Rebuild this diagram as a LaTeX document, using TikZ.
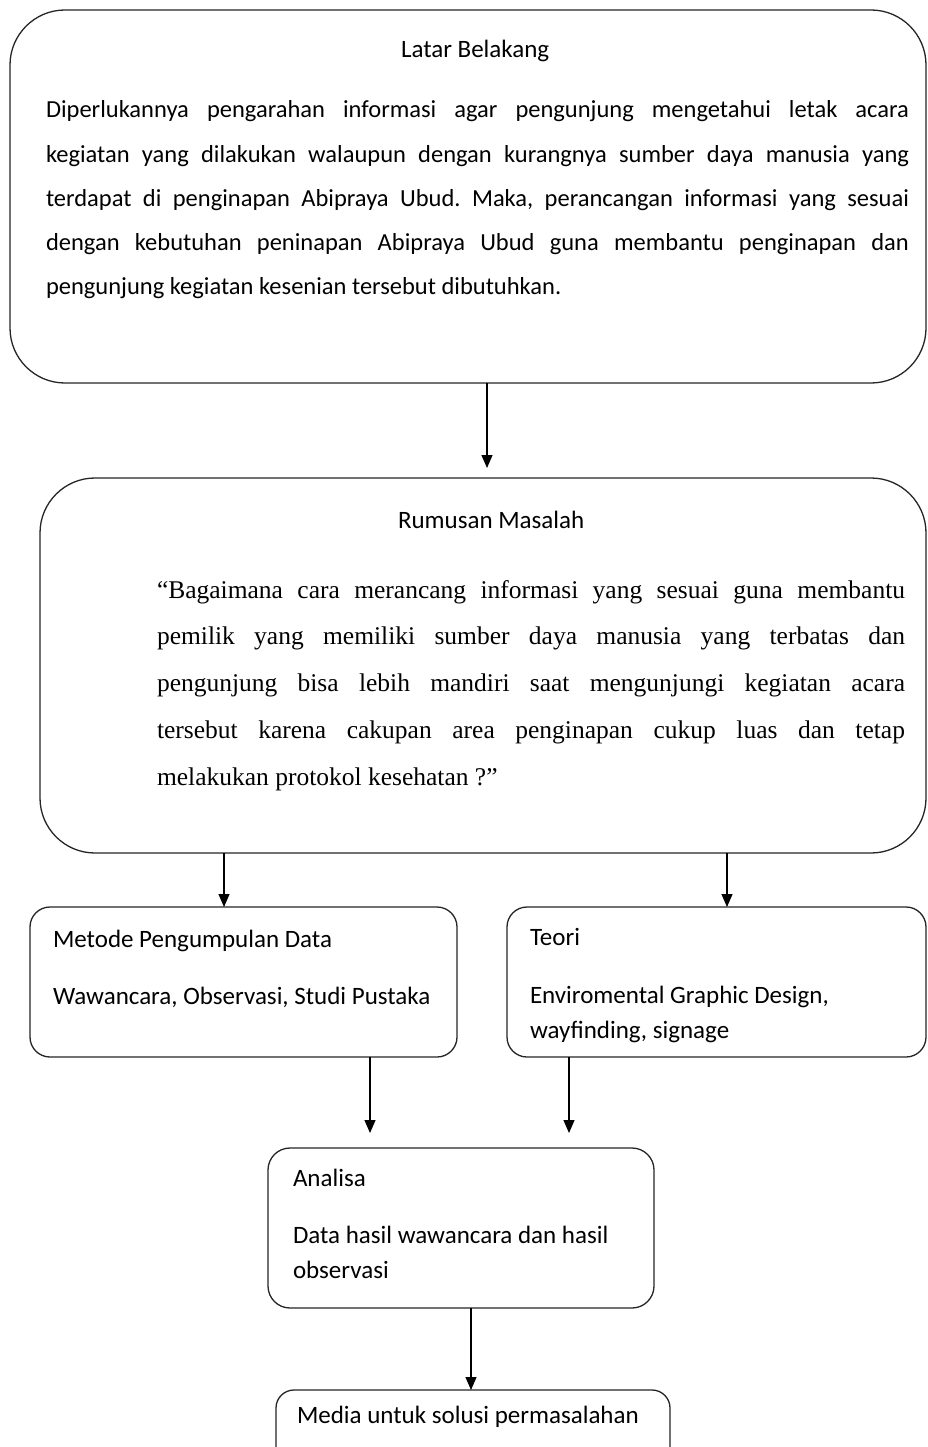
\documentclass[tikz,border=0pt]{standalone}
\usepackage{fontspec}
\setmainfont{Carlito}
\newfontfamily\quotefont{Liberation Serif}
\usetikzlibrary{arrows.meta}
\begin{document}
\begin{tikzpicture}[x=1pt,y=-1pt,
  box/.style={draw=black!85,line width=1.3pt,inner sep=0pt,outer sep=0pt,anchor=north west},
  txt/.style={inner sep=0pt,outer sep=0pt,anchor=base west,font=\fontsize{25}{25}\selectfont},
  para/.style={inner sep=0pt,outer sep=0pt,anchor=base west,align=justify},
  arr/.style={draw=black,line width=1.2pt,-{Triangle[width=11pt,length=13pt]}}]
\useasboundingbox[fill=white] (0,0) rectangle (928,1447);
\hbadness=10000 \hyphenpenalty=10000 \exhyphenpenalty=10000 \frenchspacing
% boxes
\node[box,rounded corners=55pt,minimum width=916pt,minimum height=373pt] (b1) at (10,10) {};
\node[box,rounded corners=55pt,minimum width=886pt,minimum height=375pt] (b2) at (40,478) {};
\node[box,rounded corners=20pt,minimum width=427pt,minimum height=150pt] (b3) at (30,907) {};
\node[box,rounded corners=20pt,minimum width=419pt,minimum height=150pt] (b4) at (507,907) {};
\node[box,rounded corners=22pt,minimum width=386pt,minimum height=160pt] (b5) at (268,1148) {};
\node[box,rounded corners=18pt,minimum width=394pt,minimum height=90pt] (b6) at (276,1390) {};
% texts
\node[txt] (t1) at (401,58) {Latar Belakang};
\node[para,text width=863pt,font=\fontsize{24.5}{44.25}\selectfont] (p1) at (46,118) {Diperlukannya pengarahan informasi agar pengunjung mengetahui letak acara\linebreak kegiatan yang dilakukan walaupun dengan kurangnya sumber daya manusia yang\linebreak terdapat di penginapan Abipraya Ubud. Maka, perancangan informasi yang sesuai\linebreak dengan kebutuhan peninapan Abipraya Ubud guna membantu penginapan dan\linebreak pengunjung kegiatan kesenian tersebut dibutuhkan.};
\node[txt] (t2) at (398,528) {Rumusan Masalah};
\node[para,text width=748pt,font=\quotefont\fontsize{25.5}{46.75}\selectfont] (p2) at (157,598) {“Bagaimana cara merancang informasi yang sesuai guna membantu\linebreak pemilik yang memiliki sumber daya manusia yang terbatas dan\linebreak pengunjung bisa lebih mandiri saat mengunjungi kegiatan acara\linebreak tersebut karena cakupan area penginapan cukup luas dan tetap\linebreak melakukan protokol kesehatan ?”};
\node[txt] (t3) at (53,947) {Metode Pengumpulan Data};
\node[txt] (t4) at (53,1004) {Wawancara, Observasi, Studi Pustaka};
\node[txt] (t5) at (530,945) {Teori};
\node[txt] (t6) at (530,1003) {Enviromental Graphic Design,};
\node[txt] (t7) at (530,1038) {wayfinding, signage};
\node[txt] (t8) at (293,1186) {Analisa};
\node[txt] (t9) at (293,1243) {Data hasil wawancara dan hasil};
\node[txt] (t10) at (293,1278) {observasi};
\node[txt] (t11) at (297,1423) {Media untuk solusi permasalahan};
% connector x positions
\coordinate (c1) at (487,0);
\coordinate (c2) at (224,0);
\coordinate (c3) at (727,0);
\coordinate (c4) at (370,0);
\coordinate (c5) at (569,0);
\coordinate (c6) at (471,0);
\draw[arr,shorten >=10pt] (b1.south -| c1) -- (b2.north -| c1);
\draw[arr] (b2.south -| c2) -- (b3.north -| c2);
\draw[arr] (b2.south -| c3) -- (b4.north -| c3);
\draw[arr,shorten >=15pt] (b3.south -| c4) -- (b5.north -| c4);
\draw[arr,shorten >=15pt] (b4.south -| c5) -- (b5.north -| c5);
\draw[arr] (b5.south -| c6) -- (b6.north -| c6);
\end{tikzpicture}
\end{document}
